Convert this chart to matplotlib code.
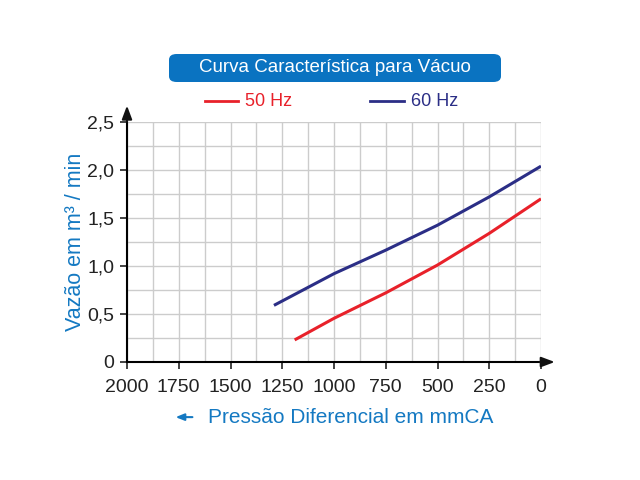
import matplotlib.pyplot as plt
from matplotlib.patches import FancyBboxPatch

# curve values (pressure mmCA -> flow m3/min)
pressao_50 = [1190, 1000, 750, 500, 250, 0]
vazao_50 = [0.23, 0.455, 0.72, 1.01, 1.34, 1.70]
pressao_60 = [1290, 1000, 750, 500, 250, 0]
vazao_60 = [0.59, 0.92, 1.165, 1.425, 1.72, 2.04]

x_ticks = [2000, 1750, 1500, 1250, 1000, 750, 500, 250, 0]
y_ticks = [0, 0.5, 1.0, 1.5, 2.0, 2.5]
y_labels = ['0', '0,5', '1,0', '1,5', '2,0', '2,5']

red = '#e8212a'
navy = '#2b2e86'
azul = '#1479c2'

plt.rcParams['font.family'] = ['Liberation Sans', 'DejaVu Sans']

fig = plt.figure(figsize=(6.4, 4.8), dpi=100)
ax = fig.add_axes([127 / 640, 118 / 480, 414 / 640, 240 / 480])

ax.plot(pressao_50, vazao_50, color=red, lw=2.2, solid_capstyle='butt')
ax.plot(pressao_60, vazao_60, color=navy, lw=2.2, solid_capstyle='butt')

ax.set_xlim(2000, 0)
ax.set_ylim(0, 2.5)
ax.set_xticks(x_ticks)
ax.set_xticks([v + 125 for v in x_ticks[1:]], minor=True)
ax.set_yticks(y_ticks)
ax.set_yticks([v + 0.25 for v in y_ticks[:-1]], minor=True)
ax.set_yticklabels(y_labels)
ax.grid(True, which='both', color='#cccccc', lw=1)
ax.set_axisbelow(True)
ax.tick_params(which='major', length=5, width=1.2, labelsize=14, colors='#222222')
ax.tick_params(axis='x', pad=7)
ax.tick_params(axis='y', pad=4)
ax.tick_params(which='minor', length=0)

for s in ['top', 'right']:
    ax.spines[s].set_visible(False)
for s in ['left', 'bottom']:
    ax.spines[s].set_linewidth(1.5)

# axis arrows
ax.annotate('', xy=(1.04, 0), xytext=(0.99, 0), xycoords='axes fraction',
            arrowprops=dict(arrowstyle='-|>,head_length=0.8,head_width=0.3', color='#111111', lw=1.5))
ax.annotate('', xy=(0, 1.08), xytext=(0, 0.99), xycoords='axes fraction',
            arrowprops=dict(arrowstyle='-|>,head_length=0.8,head_width=0.3', color='#111111', lw=1.5))

ax.set_ylabel('Vazão em m³ / min', color=azul, fontsize=15.5)
ax.yaxis.set_label_coords(-0.10, 0.5)
fig.text(0.548, 0.131, 'Pressão Diferencial em mmCA', color=azul, fontsize=15,
         ha='center', va='center')
ax.annotate('', xy=(0.270, 0.131), xytext=(0.305, 0.131), xycoords='figure fraction',
            arrowprops=dict(arrowstyle='-|>,head_length=0.5,head_width=0.2', color=azul, lw=1.5))

# title box
box = FancyBboxPatch((169 / 640, 398 / 480), 332 / 640, 28 / 480,
                     boxstyle='round,pad=0,rounding_size=0.012',
                     transform=fig.transFigure, facecolor='#0a73c1', edgecolor='none')
fig.patches.append(box)
fig.text(335 / 640, 412 / 480, 'Curva Característica para Vácuo', color='white',
         fontsize=13.5, ha='center', va='center')

# legend
fig.lines.append(plt.Line2D([205 / 640, 238 / 640], [379 / 480, 379 / 480],
                            color=red, lw=2, transform=fig.transFigure))
fig.text(245 / 640, 379 / 480, '50 Hz', color=red, fontsize=13, va='center')
fig.lines.append(plt.Line2D([370 / 640, 404 / 640], [379 / 480, 379 / 480],
                            color=navy, lw=2, transform=fig.transFigure))
fig.text(411 / 640, 379 / 480, '60 Hz', color=navy, fontsize=13, va='center')

fig.savefig('out.png', dpi=100)
